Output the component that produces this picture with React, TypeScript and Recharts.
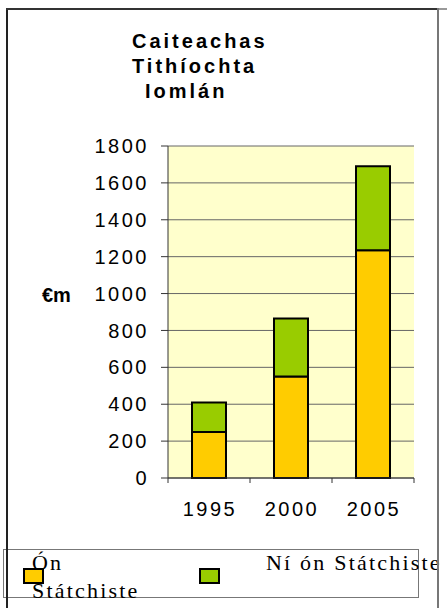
import React from 'react';
import { BarChart, Bar, XAxis, YAxis, CartesianGrid, Legend } from 'recharts';

const years = ['1995', '2000', '2005'];
const onStatchiste = [250, 550, 1235];
const niOnStatchiste = [160, 315, 455];
const yTicks = [0, 200, 400, 600, 800, 1000, 1200, 1400, 1600, 1800];
const titleLines = ['Caiteachas', 'Tithíochta', 'Iomlán'];
const seriesNames = ['Ón Státchiste', 'Ní ón Státchiste'];
const yLabel = '€m';

const data = years.map((y, i) => ({ year: y, a: onStatchiste[i], b: niOnStatchiste[i] }));

const SANS = '"Liberation Sans", Arial, sans-serif';
const SERIF = '"Liberation Serif", "Times New Roman", serif';

const XTick = (props: any) => {
  const { x, y, payload, index, visibleTicksCount } = props;
  const axisY = y - 6 - 18;
  const off = payload.offset || 0;
  return (
    <g>
      <line x1={x - off} x2={x - off} y1={axisY} y2={axisY + 5} stroke="#333" strokeWidth={1} />
      {index === visibleTicksCount - 1 ? (
        <line x1={x + off} x2={x + off} y1={axisY} y2={axisY + 5} stroke="#333" strokeWidth={1} />
      ) : null}
      <text x={x + 1} y={y} dy="0.71em" textAnchor="middle" fontFamily={SANS} fontSize={20} letterSpacing={2.5} fill="#000">
        {payload.value}
      </text>
    </g>
  );
};

const LegendContent = (props: any) => {
  const { payload } = props;
  const raw = payload || [];
  const items = seriesNames
    .map((n) => raw.find((p: any) => p.value === n))
    .filter(Boolean);
  return (
    <div style={{ position: 'relative', width: 416, height: 49, border: '1.5px solid #777', boxSizing: 'border-box' }}>
      {items.map((it: any, i: number) => (
        <React.Fragment key={i}>
          <div
            style={{
              position: 'absolute',
              left: i === 0 ? 19 : 195,
              top: 18,
              width: 21,
              height: 16,
              background: it.color,
              border: '2px solid #000',
              boxSizing: 'border-box',
            }}
          />
          <div
            style={{
              position: 'absolute',
              left: i === 0 ? 28 : 262,
              top: -1,
              width: i === 0 ? 115 : 200,
              whiteSpace: i === 0 ? 'normal' : 'nowrap',
              fontFamily: SERIF,
              fontSize: 22,
              lineHeight: '28px',
              letterSpacing: 2.2,
              color: '#000',
              textAlign: 'left',
            }}
          >
            {it.value}
          </div>
        </React.Fragment>
      ))}
    </div>
  );
};

export default function App() {
  return (
    <div style={{ position: 'absolute', left: 0, top: 0, width: 447, height: 608, background: '#fff', overflow: 'hidden' }}>
      <BarChart
        width={447}
        height={608}
        data={data}
        margin={{ top: 146, right: 33, bottom: 100, left: 42 }}
        barSize={34}
      >
        <CartesianGrid vertical={false} stroke="#666" fill="#FFFFCC" />
        <XAxis
          dataKey="year"
          height={30}
          tickLine={false}
          tickSize={6}
          tickMargin={18}
          axisLine={{ stroke: '#333' }}
          tick={<XTick />}
          interval={0}
        />
        <YAxis
          width={126}
          domain={[0, 1800]}
          ticks={yTicks}
          interval={0}
          tickSize={7}
          tickMargin={12}
          axisLine={{ stroke: '#333' }}
          tickLine={{ stroke: '#333' }}
          tick={{ fontFamily: SANS, fontSize: 20, letterSpacing: 2.5, fill: '#000' }}
          label={{
            position: 'insideLeft',
            content: (p: any) => {
              const vb = p.viewBox || {};
              return (
                <text
                  x={vb.x}
                  y={vb.y + vb.height / 2 - 10}
                  fontFamily={SANS}
                  fontWeight="bold"
                  fontSize={20}
                  fill="#000"
                >
                  {yLabel}
                </text>
              );
            },
          }}
        />
        <YAxis
          yAxisId="r"
          orientation="right"
          width={0}
          domain={[0, 1800]}
          tick={false}
          tickLine={false}
          axisLine={{ stroke: '#888' }}
        />
        <Legend
          layout="horizontal"
          verticalAlign="middle"
          align="center"
          content={<LegendContent />}
          wrapperStyle={{ position: 'absolute', left: 3, top: 549, width: 416, height: 49 }}
        />
        <Bar dataKey="a" name={seriesNames[0]} stackId="s" fill="#FFCC00" stroke="#000" strokeWidth={2} isAnimationActive={false} />
        <Bar dataKey="b" name={seriesNames[1]} stackId="s" fill="#99CC00" stroke="#000" strokeWidth={2} isAnimationActive={false} />
      </BarChart>
      <svg
        width={447}
        height={608}
        style={{ position: 'absolute', left: 0, top: 0, pointerEvents: 'none', zIndex: 5 }}
      >
        {titleLines.map((t, i) => (
          <text
            key={i}
            x={i === 2 ? 145 : 132}
            y={48 + i * 25}
            fontFamily={SANS}
            fontWeight="bold"
            fontSize={20}
            letterSpacing={3}
            fill="#000"
          >
            {t}
          </text>
        ))}
        <line x1={7} y1={9} x2={7} y2={608} stroke="#222" strokeWidth={2} />
        <line x1={6} y1={9} x2={438} y2={9} stroke="#333" strokeWidth={2} />
        <line x1={438} y1={9} x2={447} y2={9} stroke="#999" strokeWidth={2} />
        <line x1={438} y1={8} x2={438} y2={608} stroke="#777" strokeWidth={2} />
      </svg>
    </div>
  );
}
